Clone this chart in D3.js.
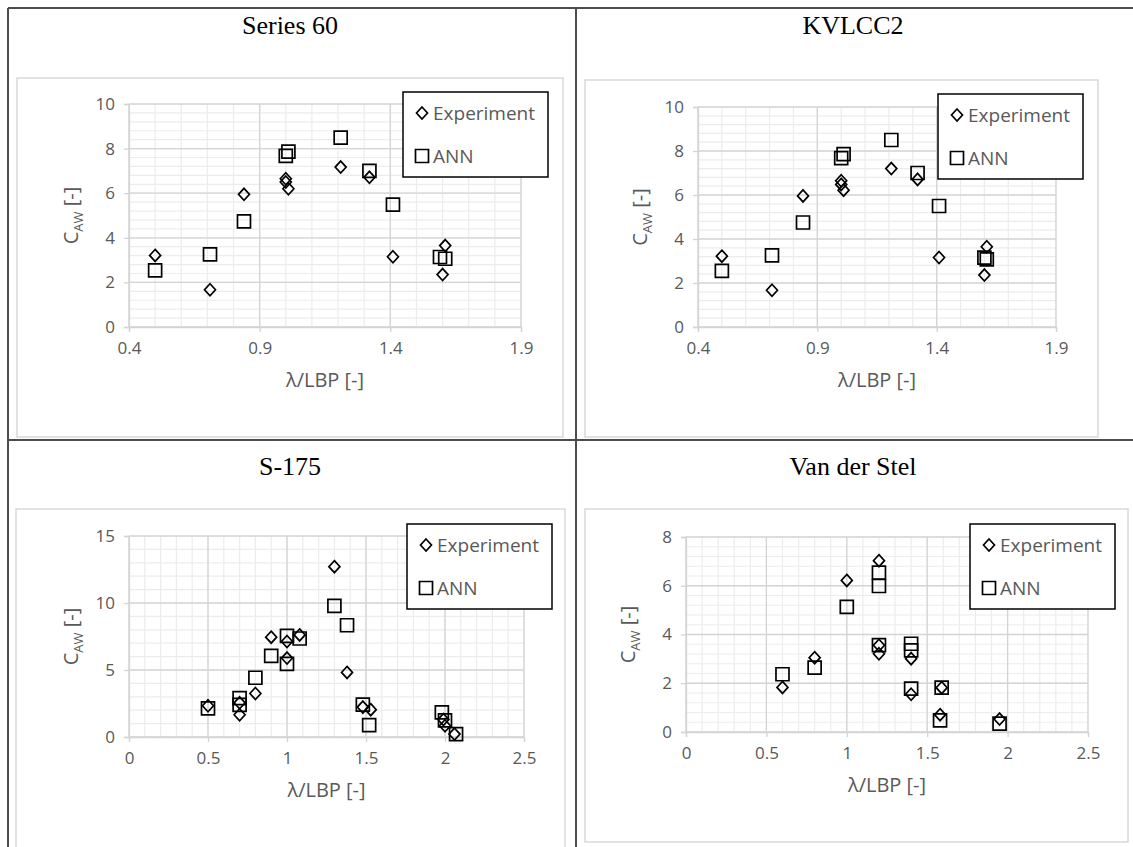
<!DOCTYPE html>
<html lang="en">
<head>
<meta charset="utf-8">
<title>Added resistance: experiment vs ANN</title>
<script src="https://d3js.org/d3.v7.min.js"></script>
<style>
  body { margin: 0; background: #fff; }
  svg { display: block; }
  .tick-label { font-family: "Open Sans", sans-serif; font-size: 17px; fill: #595959; }
  .axis-title { font-family: "Open Sans", sans-serif; font-size: 20px; fill: #595959; }
  .legend-text { font-family: "Open Sans", sans-serif; font-size: 19px; fill: #595959; }
  .panel-title { font-family: "Liberation Serif", "Times New Roman", serif; font-size: 26px; font-weight: normal; fill: #000; }
</style>
</head>
<body>
<div id="chart"></div>
<script>
// Series 60 (lambda/LBP, C_AW)
const s60Exp = [[0.50, 3.21], [0.71, 1.67], [0.84, 5.95], [1.00, 6.65], [1.00, 6.50], [1.01, 6.20],
                [1.21, 7.17], [1.32, 6.71], [1.41, 3.15], [1.61, 3.65], [1.60, 2.35]];
const s60Ann = [[0.50, 2.54], [0.71, 3.26], [0.84, 4.74], [1.00, 7.67], [1.01, 7.86], [1.21, 8.49],
                [1.32, 7.00], [1.41, 5.49], [1.59, 3.14], [1.61, 3.06]];

// KVLCC2
const kvExp = [[0.50, 3.22], [0.71, 1.67], [0.84, 5.96], [1.00, 6.65], [1.00, 6.48], [1.01, 6.22],
               [1.21, 7.20], [1.32, 6.71], [1.41, 3.16], [1.61, 3.65], [1.60, 2.36]];
const kvAnn = [[0.50, 2.55], [0.71, 3.26], [0.84, 4.75], [1.00, 7.68], [1.01, 7.86], [1.21, 8.50],
               [1.32, 7.00], [1.41, 5.50], [1.60, 3.15], [1.61, 3.07]];

// S-175
const s175Exp = [[0.50, 2.33], [0.70, 2.55], [0.70, 1.66], [0.80, 3.25], [0.90, 7.45], [1.00, 7.13],
                 [1.00, 5.89], [1.08, 7.62], [1.30, 12.71], [1.38, 4.82], [1.48, 2.23], [1.53, 2.04],
                 [1.99, 1.30], [2.00, 0.84], [2.06, 0.22]];
const s175Ann = [[0.50, 2.14], [0.70, 2.90], [0.70, 2.40], [0.80, 4.42], [0.90, 6.06], [1.00, 7.55],
                 [1.00, 5.46], [1.08, 7.35], [1.30, 9.78], [1.38, 8.34], [1.48, 2.41], [1.52, 0.89],
                 [1.98, 1.84], [2.00, 1.24], [2.07, 0.22]];

// Van der Stel
const vdsExp = [[0.60, 1.83], [0.80, 3.05], [1.00, 6.22], [1.20, 7.03], [1.20, 3.21], [1.20, 3.56],
                [1.40, 3.01], [1.40, 1.55], [1.59, 1.82], [1.58, 0.71], [1.95, 0.53]];
const vdsAnn = [[0.60, 2.37], [0.80, 2.64], [1.00, 5.13], [1.20, 6.54], [1.20, 5.99], [1.20, 3.56],
                [1.40, 3.62], [1.40, 3.35], [1.40, 1.78], [1.59, 1.82], [1.58, 0.48], [1.95, 0.34]];

// Tick labels
const xTicksA = [0.4, 0.9, 1.4, 1.9];
const yTicksA = [0, 2, 4, 6, 8, 10];
const xTicksB = [0, 0.5, 1, 1.5, 2, 2.5];
const yTicksS175 = [0, 5, 10, 15];
const yTicksVds = [0, 2, 4, 6, 8];

const legendNames = ["Experiment", "ANN"];

const W = 1133, H = 847;
const svg = d3.select("#chart").append("svg").attr("width", W).attr("height", H);

const panels = [
  { title: "Series 60", tx: 290, ty: 34, exp: s60Exp, ann: s60Ann, xTicks: xTicksA, yTicks: yTicksA,
    frame: [17, 78, 546, 359], plot: [129, 104, 521, 327], legend: [403, 92], xMinor: 0.1, yMinor: 0.4 },
  { title: "KVLCC2", tx: 853, ty: 34, exp: kvExp, ann: kvAnn, xTicks: xTicksA, yTicks: yTicksA,
    frame: [585, 80, 513, 357], plot: [698, 107, 1056, 327], legend: [938, 94], xMinor: 0.1, yMinor: 0.4 },
  { title: "S-175", tx: 290, ty: 475, exp: s175Exp, ann: s175Ann, xTicks: xTicksB, yTicks: yTicksS175,
    frame: [16, 509, 549, 360], plot: [129, 536, 524, 737], legend: [407, 524], xMinor: 0.1, yMinor: 1 },
  { title: "Van der Stel", tx: 853, ty: 475, exp: vdsExp, ann: vdsAnn, xTicks: xTicksB, yTicks: yTicksVds,
    frame: [585, 509, 543, 333], plot: [686, 537, 1088, 732], legend: [970, 524], xMinor: 0.1, yMinor: 0.4 }
];

const diamond = "M0,-6L5.5,0L0,6L-5.5,0Z";
const square = "M-6.5,-6.5H6.5V6.5H-6.5Z";

panels.forEach(p => {
  const g = svg.append("g");
  const [x0, y0, x1, y1] = p.plot;
  const x = d3.scaleLinear().domain(d3.extent(p.xTicks)).range([x0, x1]);
  const y = d3.scaleLinear().domain(d3.extent(p.yTicks)).range([y1, y0]);

  // chart frame
  g.append("rect")
    .attr("x", p.frame[0]).attr("y", p.frame[1])
    .attr("width", p.frame[2]).attr("height", p.frame[3])
    .attr("fill", "#fff").attr("stroke", "#d9d9d9").attr("stroke-width", 1.5);

  // title
  svg.append("text").attr("class", "panel-title")
    .attr("x", p.tx).attr("y", p.ty).attr("text-anchor", "middle").text(p.title);

  // minor grid
  const xs = d3.range(x.domain()[0], x.domain()[1] + 1e-9, p.xMinor);
  const ys = d3.range(y.domain()[0], y.domain()[1] + 1e-9, p.yMinor);
  g.append("g").selectAll("line").data(xs).join("line")
    .attr("x1", d => x(d)).attr("x2", d => x(d)).attr("y1", y0).attr("y2", y1)
    .attr("stroke", "#ececec").attr("stroke-width", 1.2);
  g.append("g").selectAll("line").data(ys).join("line")
    .attr("y1", d => y(d)).attr("y2", d => y(d)).attr("x1", x0).attr("x2", x1)
    .attr("stroke", "#ececec").attr("stroke-width", 1.2);

  // major grid
  g.append("g").selectAll("line").data(p.xTicks).join("line")
    .attr("x1", d => x(d)).attr("x2", d => x(d)).attr("y1", y0).attr("y2", y1)
    .attr("stroke", "#d4d4d4").attr("stroke-width", 1.3);
  g.append("g").selectAll("line").data(p.yTicks).join("line")
    .attr("y1", d => y(d)).attr("y2", d => y(d)).attr("x1", x0).attr("x2", x1)
    .attr("stroke", "#d4d4d4").attr("stroke-width", 1.3);

  // axes
  const xAxis = g.append("g").attr("transform", `translate(0,${y1})`)
    .call(d3.axisBottom(x).tickValues(p.xTicks).tickSize(5).tickPadding(8).tickFormat(d3.format("~g")));
  const yAxis = g.append("g").attr("transform", `translate(${x0},0)`)
    .call(d3.axisLeft(y).tickValues(p.yTicks).tickSize(5).tickPadding(9).tickFormat(d3.format("~g")));
  [xAxis, yAxis].forEach(a => {
    a.attr("font-size", null).attr("font-family", null);
    a.select(".domain").attr("stroke", "#d4d4d4").attr("stroke-width", 1.3);
    a.selectAll(".tick line").attr("stroke", "#d4d4d4").attr("stroke-width", 1.3);
    a.selectAll(".tick text").attr("class", "tick-label");
  });
  xAxis.selectAll(".tick text").attr("dy", "0.85em");

  // axis titles
  g.append("text").attr("class", "axis-title")
    .attr("x", (x0 + x1) / 2).attr("y", y1 + 60).attr("text-anchor", "middle")
    .text("\u03bb/LBP [-]");
  const yt = g.append("text").attr("class", "axis-title")
    .attr("transform", `translate(${x0 - 51},${(y0 + y1) / 2}) rotate(-90)`)
    .attr("text-anchor", "middle");
  yt.append("tspan").text("C");
  yt.append("tspan").attr("font-size", "13px").attr("dy", 5).text("AW");
  yt.append("tspan").attr("dy", -5).text(" [-]");

  // markers
  g.append("g").selectAll("path").data(p.exp).join("path")
    .attr("d", diamond)
    .attr("transform", d => `translate(${x(d[0])},${y(d[1])})`)
    .attr("fill", "none").attr("stroke", "#000").attr("stroke-width", 1.7);
  g.append("g").selectAll("path").data(p.ann).join("path")
    .attr("d", square)
    .attr("transform", d => `translate(${x(d[0])},${y(d[1])})`)
    .attr("fill", "none").attr("stroke", "#000").attr("stroke-width", 1.7);

  // legend
  const [lx, ly] = p.legend;
  const lg = g.append("g").attr("transform", `translate(${lx},${ly})`);
  lg.append("rect").attr("width", 145).attr("height", 85)
    .attr("fill", "#fff").attr("stroke", "#000").attr("stroke-width", 1.5);
  const shapes = [diamond, square];
  legendNames.forEach((name, i) => {
    const cy = 21 + i * 43;
    lg.append("path").attr("d", shapes[i]).attr("transform", `translate(19,${cy})`)
      .attr("fill", "none").attr("stroke", "#000").attr("stroke-width", 1.7);
    lg.append("text").attr("class", "legend-text").attr("x", 30).attr("y", cy + 7).text(name);
  });
});

// outer table lines
const border = [
  [8, 8, W, 8], [8, 8, 8, H], [576, 8, 576, H], [8, 440, W, 440]
];
svg.append("g").selectAll("line").data(border).join("line")
  .attr("x1", d => d[0]).attr("y1", d => d[1]).attr("x2", d => d[2]).attr("y2", d => d[3])
  .attr("stroke", "#4d4d4d").attr("stroke-width", 2);
</script>
</body>
</html>
